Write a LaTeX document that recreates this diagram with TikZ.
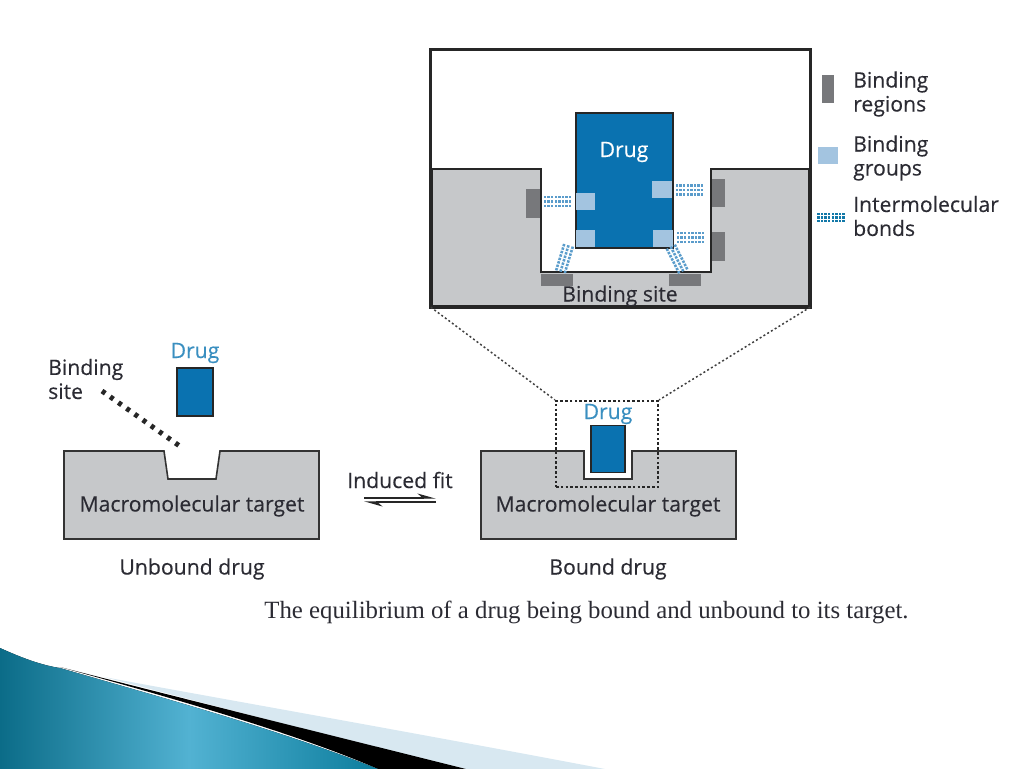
\documentclass[tikz,border=0pt]{standalone}
\usepackage{fontspec}
\setmainfont[FakeBold=0.3]{Open Sans}
\newfontfamily\captionfont{Liberation Serif}
\usetikzlibrary{arrows.meta}
\definecolor{targetGray}{HTML}{C6C8CA}
\definecolor{regionGray}{HTML}{77787B}
\definecolor{drugBlue}{HTML}{0A72B0}
\definecolor{groupBlue}{HTML}{A3C4E0}
\definecolor{bondBlue}{HTML}{5A9CCB}
\definecolor{bondDark}{HTML}{1278A8}
\definecolor{labelBlue}{HTML}{3A8FC0}
\definecolor{inkDark}{HTML}{2B2B33}
\definecolor{swooshDark}{HTML}{0B6C88}
\definecolor{swooshLight}{HTML}{52B2D2}
\definecolor{swooshEnd}{HTML}{0C7D9D}
\definecolor{swooshPale}{HTML}{D8E8F1}
\tikzset{drugStyle/.style={rectangle, draw=black!85, fill=drugBlue, inner sep=0pt}}
\tikzset{regionStyle/.style={rectangle, fill=regionGray, inner sep=0pt}}
\tikzset{groupStyle/.style={rectangle, fill=groupBlue, inner sep=0pt}}
\tikzset{targetStyle/.style={draw=black!80, fill=targetGray, line width=1.6pt}}
\tikzset{textStyle/.style={inner sep=0pt, text=inkDark, font=\fontsize{21.2}{24}\selectfont}}
\tikzset{legendStyle/.style={textStyle, anchor=west, align=left}}
\tikzset{dottedLink/.style={black!75, line width=1.5pt, dash pattern=on 2pt off 2.4pt}}
\tikzset{fitArrow/.style={-{Stealth[left, length=16pt, width=9pt]}, black!85, line width=1.4pt}}
\tikzset{bondPatch/.pic={
  \foreach \rowY in {-4.5,0,4.5} {
    \foreach \colX in {-12.6,-9,-5.4,-1.8,1.8,5.4,9,12.6} {
      \fill (\colX-1.2,\rowY-1.3) rectangle (\colX+1.2,\rowY+1.3);
    }
  }
}}
\begin{document}
\begin{tikzpicture}[x=1pt, y=-1pt]
  \useasboundingbox (0,0) rectangle (1024,768);

  % swoosh
  \fill [swooshPale] (104,677) .. controls (200,695) and (400,730) .. (605,769) -- (466,769) -- (300,728) -- cycle;
  \fill [black] (60,667) .. controls (200,703) and (330,735) .. (466,769) -- (378,769) .. controls (300,735) and (180,700) .. cycle;
  \fill [left color=swooshDark, right color=swooshEnd, middle color=swooshLight] (0,648) .. controls (20,657) and (40,665) .. (60,668) .. controls (170,700) and (280,730) .. (378,769) -- (0,769) -- cycle;

  % inset
  \node [rectangle, minimum width=379pt, minimum height=257pt, inner sep=0pt] (inset) at (620.5,178.5) {};
  \draw [targetStyle, line width=1.4pt, draw=black!85] (432,169) -- (541,169) -- (541,272) -- (711,272) -- (711,169) -- (809,169) -- (809,306) -- (432,306) -- cycle;
  \node [regionStyle, minimum width=14pt, minimum height=29pt] (regionLeft) at (533,203.5) {};
  \node [regionStyle, minimum width=13pt, minimum height=28pt] (regionUp) at (718,193) {};
  \node [regionStyle, minimum width=13pt, minimum height=29pt] (regionLow) at (718,246.5) {};
  \node [regionStyle, minimum width=32pt, minimum height=12pt] (regionBotL) at (557,279.5) {};
  \node [regionStyle, minimum width=32pt, minimum height=12pt] (regionBotR) at (685,279.5) {};
  \node [drugStyle, line width=2pt, minimum width=97pt, minimum height=135pt] (bigDrug) at (624.5,180) {};
  \node [groupStyle, minimum width=19pt, minimum height=17pt] (groupLeft) at (585.5,201) {};
  \node [groupStyle, minimum width=19pt, minimum height=17pt] (groupBotL) at (585.5,238) {};
  \node [groupStyle, minimum width=20pt, minimum height=17pt] (groupUp) at (662,189) {};
  \node [groupStyle, minimum width=20pt, minimum height=17pt] (groupBotR) at (663,238) {};
  \pic [color=bondBlue] at (557.5,201.5) {bondPatch};
  \pic [color=bondBlue] at (689.5,190) {bondPatch};
  \pic [color=bondBlue] at (690.5,237.5) {bondPatch};
  \pic [color=bondBlue, rotate=73] at (564.5,258.5) {bondPatch};
  \pic [color=bondBlue, rotate=-63] at (677,259) {bondPatch};
  \node [textStyle, text=white] (bigDrugLabel) at (624,152) {Drug};
  \node [textStyle] (insetSite) at (620,296) {Binding site};
  \draw [black!85, line width=3pt] (inset.south west) rectangle (inset.north east);

  % legend
  \node [regionStyle, minimum width=12pt, minimum height=28pt] (keyRegion) at (828,89) {};
  \node [groupStyle, minimum width=20pt, minimum height=17pt] (keyGroup) at (828,155.5) {};
  \pic [color=bondDark, yscale=.8] at (831,217.5) {bondPatch};
  \node [legendStyle] (keyRegionText) at (853,94) {Binding\\regions};
  \node [legendStyle] (keyGroupText) at (853,158) {Binding\\groups};
  \node [legendStyle] (keyBondText) at (853,216) {Intermolecular\\bonds};

  % unbound
  \draw [targetStyle] (64,451) -- (164,451) -- (168,479) -- (216,479) -- (220,451) -- (319,451) -- (319,539) -- (64,539) -- cycle;
  \node [drugStyle, line width=1.5pt, minimum width=36pt, minimum height=48pt] (freeDrug) at (195,392) {};
  \node [textStyle, text=labelBlue] (freeDrugLabel) at (195,353) {Drug};
  \node [legendStyle] (siteLabel) at (48,379) {Binding\\site};
  \coordinate (siteFrom) at (102,391);
  \coordinate (siteTo) at (181,447);
  \draw [black!85, line width=5pt, dash pattern=on 4pt off 6pt] (siteFrom) -- (siteTo);
  \node [textStyle] (freeTarget) at (192,506) {Macromolecular target};
  \node [textStyle] (freeLabel) at (192,569) {Unbound drug};

  % induced fit
  \node [textStyle] (fitLabel) at (400,480) {Induced fit};
  \coordinate (fitA) at (364,498);
  \coordinate (fitB) at (436,498);
  \coordinate (fitC) at (436,502);
  \coordinate (fitD) at (364,502);
  \draw [fitArrow] (fitA) -- (fitB);
  \draw [fitArrow] (fitC) -- (fitD);

  % bound
  \draw [targetStyle] (481,451) -- (584,451) -- (584,479) -- (632,479) -- (632,451) -- (736,451) -- (736,539) -- (481,539) -- cycle;
  \node [drugStyle, line width=1.5pt, minimum width=34pt, minimum height=47pt] (boundDrug) at (608,449) {};
  \node [textStyle, text=labelBlue] (boundDrugLabel) at (608,414) {Drug};
  \node [textStyle] (boundTarget) at (608,506) {Macromolecular target};
  \node [textStyle] (boundLabel) at (608,569) {Bound drug};
  \node [rectangle, draw=black!85, line width=2.2pt, dash pattern=on 2.6pt off 2.2pt, minimum width=102pt, minimum height=86pt, inner sep=0pt] (zoomBox) at (607,444) {};
  \draw [dottedLink] (inset.south west) -- (zoomBox.north west);
  \draw [dottedLink] (inset.south east) -- (zoomBox.north east);

  % caption
  \node [inner sep=0pt, text=inkDark, font=\captionfont\fontsize{24.8}{28}\selectfont] (caption) at (586.5,612) {The equilibrium of a drug being bound and unbound to its target.};
\end{tikzpicture}
\end{document}
